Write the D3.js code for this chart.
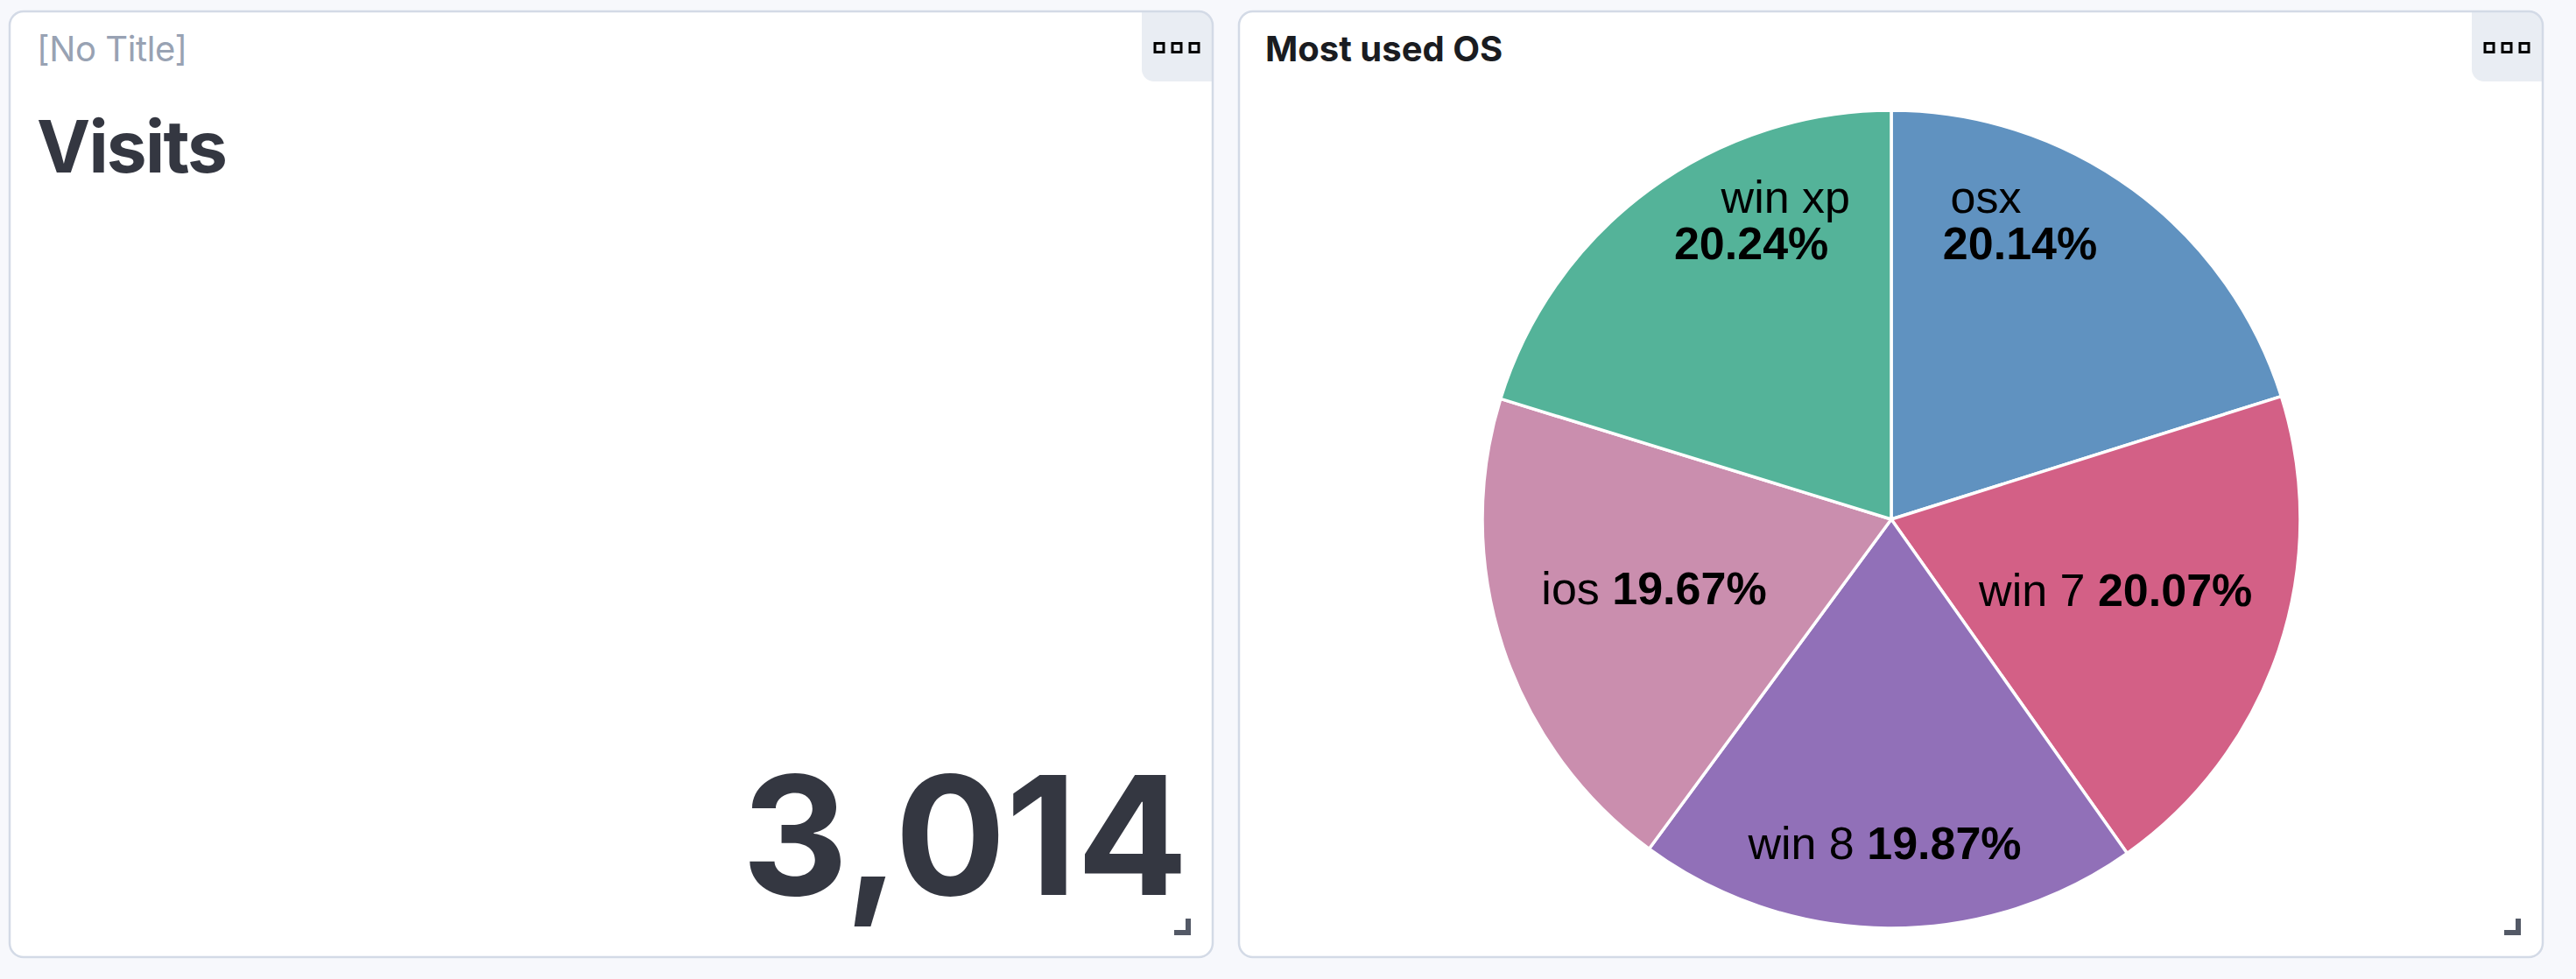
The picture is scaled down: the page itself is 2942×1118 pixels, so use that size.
<!DOCTYPE html>
<html>
<head>
<meta charset="utf-8">
<script src="https://cdn.jsdelivr.net/npm/d3@7"></script>
<style>
  html, body { margin: 0; padding: 0; background: #F7F8FC; }
  svg { display: block; }
</style>
</head>
<body>
<svg id="chart" width="2942" height="1118"></svg>
<script>
// ---- data ----
const osNames  = ["osx", "win 7", "win 8", "ios", "win xp"];
const osCounts = [607, 605, 599, 593, 610];
const osColors = ["#6092C0", "#D36086", "#9170B8", "#CA8EAE", "#54B399"];
const metricTitle = "[No Title]";
const metricLabel = "Visits";
const pieTitle = "Most used OS";

const svg = d3.select("#chart");

const panels = [
  {x: 11, y: 13, w: 1374, h: 1080},
  {x: 1415, y: 13, w: 1489, h: 1080}
];

function drawPanel(p) {
  const g = svg.append("g").attr("transform", `translate(${p.x},${p.y})`);
  g.append("rect").attr("x", 0).attr("y", 0).attr("width", p.w).attr("height", p.h)
    .attr("rx", 16).attr("fill", "#FFFFFF");
  // menu button
  const bw = 81, bh = 80, r = 14, rr = 16;
  const bx = p.w - bw;
  const path = d3.path();
  path.moveTo(bx, 0);
  path.lineTo(p.w - rr, 0);
  path.arcTo(p.w, 0, p.w, rr, rr);
  path.lineTo(p.w, bh);
  path.lineTo(bx + r, bh);
  path.arcTo(bx, bh, bx, bh - r, r);
  path.closePath();
  g.append("path").attr("d", path.toString()).attr("fill", "#E9EDF3");
  g.append("rect").attr("x", 0).attr("y", 0).attr("width", p.w).attr("height", p.h)
    .attr("rx", 16).attr("fill", "none").attr("stroke", "#D3DAE6").attr("stroke-width", 2.5);
  for (let i = 0; i < 3; i++) {
    g.append("rect").attr("x", p.w - 66 + i * 20).attr("y", 36.5).attr("width", 10).attr("height", 10)
      .attr("fill", "#E9EDF3").attr("stroke", "#000").attr("stroke-width", 3);
  }
  // resize handle
  g.append("path")
    .attr("d", `M${p.w - 44},${p.h - 28} L${p.w - 28},${p.h - 28} L${p.w - 28},${p.h - 44}`)
    .attr("fill", "none").attr("stroke", "#535966").attr("stroke-width", 6);
  return g;
}

// ---- Panel 1: metric ----
const g1 = drawPanel(panels[0]);
g1.append("text").attr("x", 31).attr("y", 57).text(metricTitle)
  .attr("font-family", "Inter").attr("font-size", 40).attr("letter-spacing", -0.4).attr("fill", "#98A2B3");
g1.append("text").attr("x", 31).attr("y", 184).text(metricLabel)
  .attr("font-family", "Inter").attr("font-weight", 700).attr("font-size", 82)
  .attr("letter-spacing", -1.8).attr("fill", "#343741");
g1.append("text").attr("x", 1346).attr("y", 1009).attr("text-anchor", "end")
  .text(d3.format(",")(d3.sum(osCounts)))
  .attr("font-family", "Inter").attr("font-weight", 700).attr("font-size", 188).attr("fill", "#343741");

// ---- Panel 2: pie ----
const g2 = drawPanel(panels[1]);
g2.append("text").attr("x", 30).attr("y", 57).text(pieTitle)
  .attr("font-family", "Inter").attr("font-weight", 700).attr("font-size", 40).attr("fill", "#1A1C21");

const cx = 2160 - panels[1].x, cy = 593 - panels[1].y, R = 467;
const data = osNames.map((n, i) => ({name: n, value: osCounts[i]}));
const total = d3.sum(osCounts);
const color = d3.scaleOrdinal().domain(osNames).range(osColors);
const pie = d3.pie().sort(null).value(d => d.value);
const arc = d3.arc().innerRadius(0).outerRadius(R);
const arcs = pie(data);
const pg = g2.append("g").attr("transform", `translate(${cx},${cy})`);
pg.selectAll("path").data(arcs).join("path")
  .attr("d", arc).attr("fill", d => color(d.data.name))
  .attr("stroke", "#FFFFFF").attr("stroke-width", 3.5).attr("stroke-linejoin", "round");

const pct = d3.format(".2%");
const fs = 52;
const capShift = 0.358 * fs;
arcs.forEach(d => {
  let th = (d.startAngle + d.endAngle) / 2;
  if (th > Math.PI) th -= 2 * Math.PI;
  const label = pct(d.data.value / total);
  const c = Math.cos(th), s = Math.sin(th);
  const xShift = -4 + 7 * Math.min(s, 0);
  if (c > 0.7) {
    // upper slices: two rows, stepped along the slice
    const phi = th * 0.58, rm = 0.785 * R;
    const mx = rm * Math.sin(phi) + xShift, my = -rm * Math.cos(phi);
    const step = 33;
    const rows = [
      {t: d.data.name, w: 400, x: mx - s * step, y: my - c * step},
      {t: label, w: 700, x: mx + s * step, y: my + c * step}
    ];
    rows.forEach(rw => {
      pg.append("text").attr("x", rw.x).attr("y", rw.y + capShift)
        .attr("text-anchor", "middle").attr("font-family", "Liberation Sans")
        .attr("font-size", fs).attr("font-weight", rw.w).attr("fill", "#000").text(rw.t);
    });
  } else {
    const rf = (0.565 + 0.225 * c * c) * R;
    const x = rf * s + xShift, y = -rf * c - 8 * s * s;
    const t = pg.append("text").attr("x", x).attr("y", y + capShift)
      .attr("text-anchor", "middle").attr("font-family", "Liberation Sans")
      .attr("font-size", fs).attr("fill", "#000");
    t.append("tspan").attr("font-weight", 400).text(d.data.name + " ");
    t.append("tspan").attr("font-weight", 700).text(label);
  }
});
</script>
</body>
</html>
